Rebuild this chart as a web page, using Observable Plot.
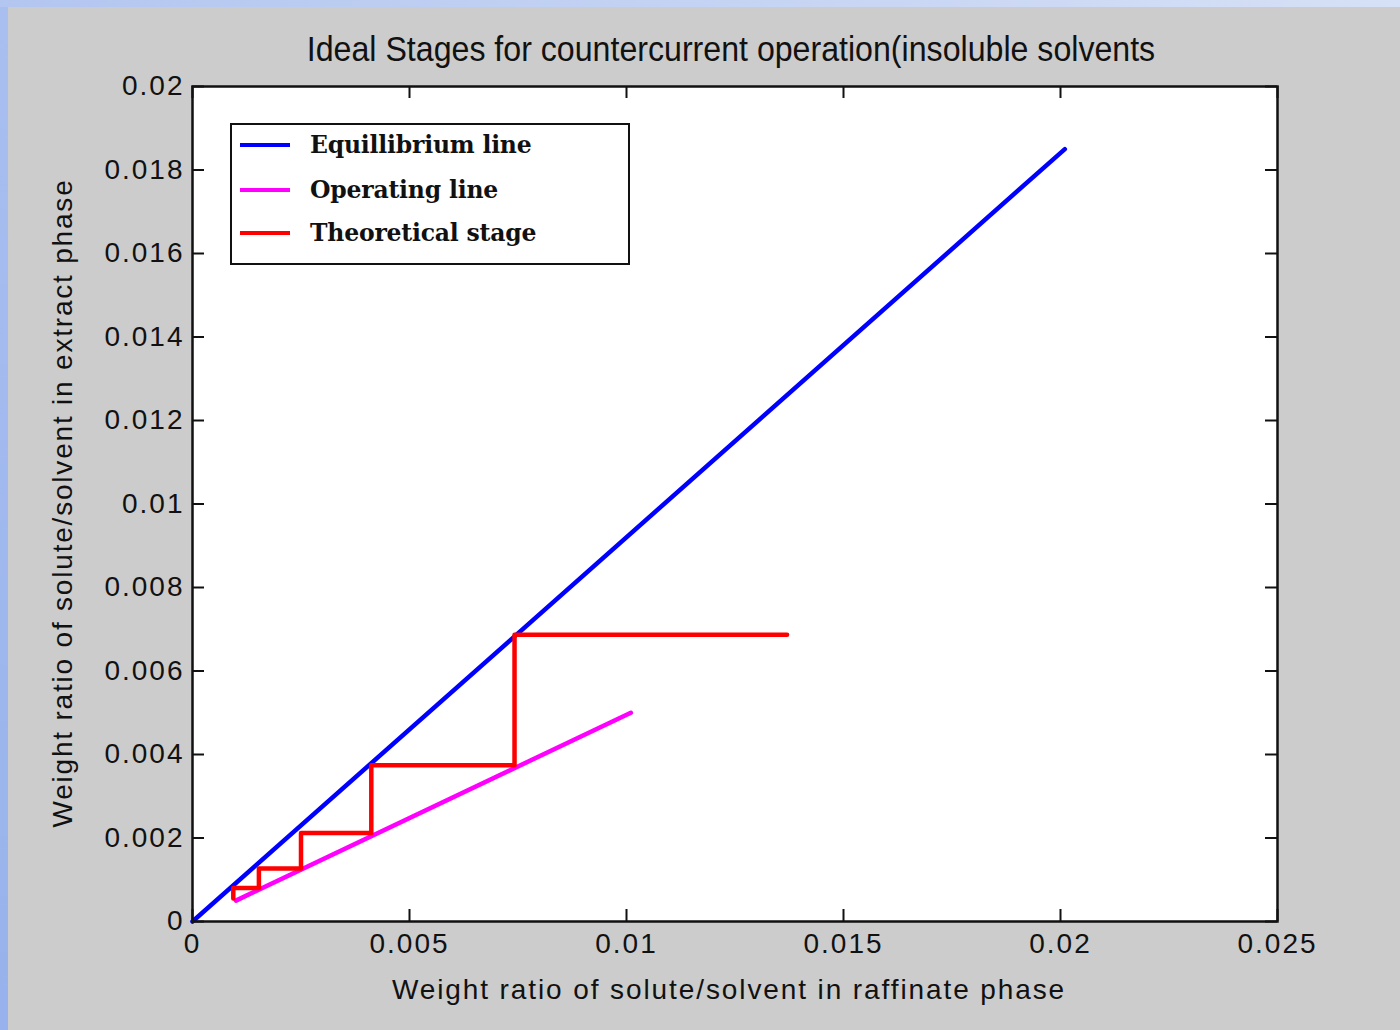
<!DOCTYPE html>
<html>
<head>
<meta charset="utf-8">
<script src="https://cdn.jsdelivr.net/npm/d3@7"></script>
<script src="https://cdn.jsdelivr.net/npm/@observablehq/plot@0.6"></script>
<style>
  html, body { margin: 0; padding: 0; }
  body { width: 1400px; height: 1030px; background: #cccccc; position: relative; overflow: hidden; }
  #leftStrip { position: absolute; left: 0; top: 0; width: 8px; height: 1030px; background: linear-gradient(#a9bff0, #97b2ec); }
  #topStrip { position: absolute; left: 0; top: 0; width: 1400px; height: 7px; background: linear-gradient(90deg, #b3c6f0, #d6e0f6); }
  #chart { position: absolute; left: 0; top: 0; }
  .lbl { position: absolute; font-family: "Liberation Sans", Arial, sans-serif; color: #111; white-space: nowrap; }
  #title { font-size: 35px; left: 731px; top: 49px; transform: translate(-50%, -50%) scaleX(0.918); }
  #xlabel { font-size: 28px; left: 729px; top: 990px; transform: translate(-50%, -50%); letter-spacing: 1.9px; }
  #ylabel { font-size: 28px; left: 63px; top: 503px; transform: translate(-50%, -50%) rotate(-90deg); letter-spacing: 1.8px; }
  #legend { position: absolute; left: 230px; top: 123px; width: 396px; height: 138px; background: white; border: 2px solid #111; }
  .row { position: absolute; left: 0; height: 30px; display: flex; align-items: center; }
  .sw { width: 50px; height: 4px; margin-left: 8px; }
  .txt { margin-left: 20px; font-family: "DejaVu Serif", "Liberation Serif", serif; font-weight: bold; font-size: 23.5px; color: #111; letter-spacing: -0.2px; }
</style>
</head>
<body>
<div id="leftStrip"></div>
<div id="topStrip"></div>
<div id="chart"></div>
<div id="title" class="lbl">Ideal Stages for countercurrent operation(insoluble solvents</div>
<div id="xlabel" class="lbl">Weight ratio of solute/solvent in raffinate phase</div>
<div id="ylabel" class="lbl">Weight ratio of solute/solvent in extract phase</div>
<div id="legend"></div>
<script>
// ---- data ----
const eqX = [0, 0.0201];
const eqY = [0, 0.0185];
const opX = [0.001, 0.0101];
const opY = [0.0005, 0.0050];
const stageX = [0.0137, 0.00742, 0.00742, 0.00412, 0.00412, 0.00250, 0.00250, 0.00153, 0.00153, 0.00094, 0.00094];
const stageY = [0.00687, 0.00687, 0.00374, 0.00374, 0.00212, 0.00212, 0.00127, 0.00127, 0.00080, 0.00080, 0.00055];
const xTicks = [0, 0.005, 0.01, 0.015, 0.02, 0.025];
const xTickLabels = ["0", "0.005", "0.01", "0.015", "0.02", "0.025"];
const yTicks = [0, 0.002, 0.004, 0.006, 0.008, 0.01, 0.012, 0.014, 0.016, 0.018, 0.02];
const yTickLabels = ["0", "0.002", "0.004", "0.006", "0.008", "0.01", "0.012", "0.014", "0.016", "0.018", "0.02"];
const seriesNames = ["Equillibrium line", "Operating line", "Theoretical stage"];
const seriesColors = ["#0000ff", "#ff00ff", "#ff0000"];

const eq = eqX.map((x, i) => ({x, y: eqY[i]}));
const op = opX.map((x, i) => ({x, y: opY[i]}));
const st = stageX.map((x, i) => ({x, y: stageY[i]}));

const W = 1400, H = 1030;
const mL = 192, mR = 123, mT = 86, mB = 109;
const innerH = H - mT - mB, innerW = W - mL - mR;
const tl = 12;

const xLab = new Map(xTicks.map((t, i) => [t, xTickLabels[i]]));
const yLab = new Map(yTicks.map((t, i) => [t, yTickLabels[i]]));

const chart = Plot.plot({
  width: W, height: H,
  marginLeft: mL, marginRight: mR, marginTop: mT, marginBottom: mB,
  style: {background: "transparent", fontFamily: "Liberation Sans, Arial, sans-serif", fontSize: "28px", letterSpacing: "2px", color: "#111"},
  x: {domain: [0, 0.025], label: null},
  y: {domain: [0, 0.02], label: null},
  marks: [
    Plot.frame({fill: "white"}),
    Plot.line(eq, {x: "x", y: "y", stroke: seriesColors[0], strokeWidth: 4.5}),
    Plot.line(op, {x: "x", y: "y", stroke: seriesColors[1], strokeWidth: 4.5}),
    Plot.line(st, {x: "x", y: "y", stroke: seriesColors[2], strokeWidth: 4.5, curve: "linear"}),
    Plot.tickX(xTicks, {x: d => d, stroke: "#111", strokeWidth: 2, insetTop: innerH - tl}),
    Plot.tickX(xTicks, {x: d => d, stroke: "#111", strokeWidth: 2, insetBottom: innerH - tl}),
    Plot.tickY(yTicks, {y: d => d, stroke: "#111", strokeWidth: 2, insetRight: innerW - tl}),
    Plot.tickY(yTicks, {y: d => d, stroke: "#111", strokeWidth: 2, insetLeft: innerW - tl}),
    Plot.axisX({ticks: xTicks, tickSize: 0, tickPadding: 12, tickFormat: d => xLab.get(d), label: null, fill: "#111"}),
    Plot.axisY({ticks: yTicks, tickSize: 0, tickPadding: 8, tickFormat: d => yLab.get(d), label: null, fill: "#111"}),
    Plot.frame({stroke: "#111", strokeWidth: 2.5})
  ]
});
document.getElementById("chart").appendChild(chart);

// legend
const leg = document.getElementById("legend");
const rowTops = [5, 50, 93];
seriesNames.forEach((name, i) => {
  const r = document.createElement("div");
  r.className = "row";
  r.style.top = rowTops[i] + "px";
  const sw = document.createElement("div");
  sw.className = "sw";
  sw.style.background = seriesColors[i];
  const t = document.createElement("div");
  t.className = "txt";
  t.textContent = name;
  r.appendChild(sw); r.appendChild(t);
  leg.appendChild(r);
});
</script>
</body>
</html>
